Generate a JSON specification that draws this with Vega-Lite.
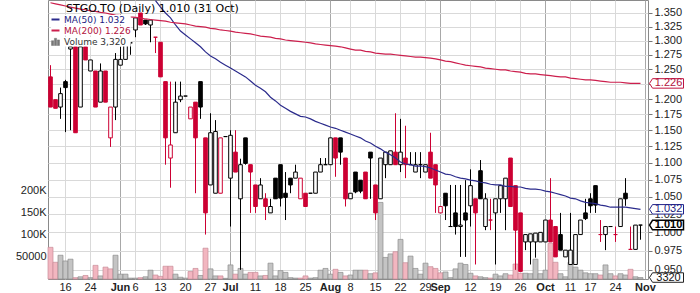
{
"$schema": "https://vega.github.io/schema/vega-lite/v6.json",
"width": 600,
"height": 279,
"autosize": {"type": "none"},
"padding": {"left": 48, "top": 0, "right": 52, "bottom": 14},
"background": "#ffffff",
"config": {
  "view": {"stroke": "#8a8a8a", "strokeWidth": 1},
  "axis": {"labelFont": "Liberation Sans", "labelFontSize": 11, "labelColor": "#222222", "domain": false}
},
"data": {"values": [
{"d":"2022-05-11","o":1.237,"h":1.257,"l":1.187,"c":1.187,"v":72000,"m50":null,"m200":1.369,"dir":"d"},
{"d":"2022-05-12","o":1.199,"h":1.199,"l":1.185,"c":1.185,"v":38000,"m50":null,"m200":1.367,"dir":"d"},
{"d":"2022-05-13","o":1.187,"h":1.219,"l":1.168,"c":1.209,"v":54000,"m50":null,"m200":1.365,"dir":"u"},
{"d":"2022-05-16","o":1.229,"h":1.232,"l":1.147,"c":1.219,"v":41000,"m50":null,"m200":1.363,"dir":"u"},
{"d":"2022-05-17","o":1.285,"h":1.289,"l":1.150,"c":1.289,"v":45000,"m50":null,"m200":1.361,"dir":"u"},
{"d":"2022-05-18","o":1.289,"h":1.289,"l":1.146,"c":1.146,"v":3000,"m50":null,"m200":1.359,"dir":"d"},
{"d":"2022-05-19","o":1.187,"h":1.289,"l":1.187,"c":1.289,"v":5000,"m50":null,"m200":1.357,"dir":"u"},
{"d":"2022-05-20","o":1.289,"h":1.289,"l":1.266,"c":1.266,"v":8000,"m50":null,"m200":1.356,"dir":"d"},
{"d":"2022-05-24","o":1.247,"h":1.266,"l":1.247,"c":1.266,"v":3000,"m50":null,"m200":1.354,"dir":"u"},
{"d":"2022-05-25","o":1.247,"h":1.247,"l":1.187,"c":1.187,"v":31000,"m50":null,"m200":1.353,"dir":"d"},
{"d":"2022-05-26","o":1.195,"h":1.260,"l":1.195,"c":1.247,"v":7000,"m50":null,"m200":1.351,"dir":"u"},
{"d":"2022-05-27","o":1.247,"h":1.247,"l":1.195,"c":1.195,"v":27000,"m50":null,"m200":1.350,"dir":"d"},
{"d":"2022-05-30","o":1.138,"h":1.187,"l":1.124,"c":1.187,"v":23000,"m50":null,"m200":1.348,"dir":"d"},
{"d":"2022-05-31","o":1.187,"h":1.278,"l":1.166,"c":1.267,"v":54000,"m50":null,"m200":1.346,"dir":"u"},
{"d":"2022-06-01","o":1.257,"h":1.289,"l":1.257,"c":1.267,"v":11000,"m50":null,"m200":1.345,"dir":"u"},
{"d":"2022-06-02","o":1.267,"h":1.296,"l":1.267,"c":1.296,"v":11000,"m50":null,"m200":1.345,"dir":"u"},
{"d":"2022-06-03","o":1.296,"h":1.296,"l":1.275,"c":1.296,"v":2000,"m50":null,"m200":1.343,"dir":"u"},
{"d":"2022-06-06","o":1.319,"h":1.341,"l":1.306,"c":1.341,"v":2000,"m50":null,"m200":1.342,"dir":"u"},
{"d":"2022-06-07","o":1.350,"h":1.350,"l":1.328,"c":1.328,"v":3000,"m50":null,"m200":1.341,"dir":"d"},
{"d":"2022-06-08","o":1.337,"h":1.337,"l":1.328,"c":1.330,"v":5000,"m50":null,"m200":1.339,"dir":"u"},
{"d":"2022-06-09","o":1.328,"h":1.337,"l":1.297,"c":1.337,"v":20000,"m50":null,"m200":1.338,"dir":"u"},
{"d":"2022-06-10","o":1.306,"h":1.306,"l":1.278,"c":1.306,"v":9000,"m50":1.373,"m200":1.337,"dir":"d"},
{"d":"2022-06-13","o":1.297,"h":1.297,"l":1.237,"c":1.237,"v":6000,"m50":1.361,"m200":1.336,"dir":"d"},
{"d":"2022-06-14","o":1.229,"h":1.229,"l":1.097,"c":1.138,"v":29000,"m50":1.350,"m200":1.335,"dir":"d"},
{"d":"2022-06-15","o":1.107,"h":1.229,"l":1.063,"c":1.127,"v":29000,"m50":1.341,"m200":1.333,"dir":"d"},
{"d":"2022-06-16","o":1.146,"h":1.229,"l":1.146,"c":1.195,"v":11000,"m50":1.328,"m200":1.332,"dir":"u"},
{"d":"2022-06-17","o":1.199,"h":1.229,"l":1.195,"c":1.205,"v":4000,"m50":1.317,"m200":1.331,"dir":"u"},
{"d":"2022-06-20","o":1.205,"h":1.205,"l":1.205,"c":1.205,"v":2000,"m50":1.310,"m200":1.330,"dir":"u"},
{"d":"2022-06-21","o":1.168,"h":1.187,"l":1.168,"c":1.187,"v":17000,"m50":1.303,"m200":1.328,"dir":"d"},
{"d":"2022-06-22","o":1.195,"h":1.195,"l":1.055,"c":1.138,"v":24000,"m50":1.296,"m200":1.326,"dir":"d"},
{"d":"2022-06-23","o":1.229,"h":1.229,"l":1.168,"c":1.187,"v":8000,"m50":1.289,"m200":1.325,"dir":"u"},
{"d":"2022-06-24","o":1.138,"h":1.138,"l":0.997,"c":1.027,"v":70000,"m50":1.280,"m200":1.324,"dir":"d"},
{"d":"2022-06-27","o":1.067,"h":1.177,"l":1.067,"c":1.146,"v":23000,"m50":1.273,"m200":1.322,"dir":"u"},
{"d":"2022-06-28","o":1.055,"h":1.166,"l":1.055,"c":1.148,"v":7000,"m50":1.268,"m200":1.321,"dir":"u"},
{"d":"2022-06-29","o":1.055,"h":1.138,"l":1.055,"c":1.138,"v":7000,"m50":1.262,"m200":1.319,"dir":"d"},
{"d":"2022-06-30","o":1.140,"h":1.140,"l":1.140,"c":1.140,"v":1500,"m50":1.257,"m200":1.318,"dir":"u"},
{"d":"2022-07-04","o":1.077,"h":1.150,"l":1.008,"c":1.142,"v":32000,"m50":1.252,"m200":1.317,"dir":"u"},
{"d":"2022-07-05","o":1.116,"h":1.150,"l":1.086,"c":1.086,"v":11000,"m50":1.247,"m200":1.315,"dir":"d"},
{"d":"2022-07-06","o":1.047,"h":1.106,"l":0.950,"c":1.097,"v":24000,"m50":1.242,"m200":1.314,"dir":"u"},
{"d":"2022-07-07","o":1.138,"h":1.138,"l":1.097,"c":1.099,"v":11000,"m50":1.237,"m200":1.313,"dir":"u"},
{"d":"2022-07-08","o":1.097,"h":1.097,"l":1.027,"c":1.086,"v":15000,"m50":1.230,"m200":1.312,"dir":"d"},
{"d":"2022-07-11","o":1.067,"h":1.067,"l":1.027,"c":1.036,"v":15000,"m50":1.223,"m200":1.310,"dir":"d"},
{"d":"2022-07-12","o":1.047,"h":1.077,"l":1.047,"c":1.067,"v":7000,"m50":1.218,"m200":1.308,"dir":"u"},
{"d":"2022-07-13","o":1.047,"h":1.055,"l":1.017,"c":1.036,"v":8000,"m50":1.212,"m200":1.307,"dir":"d"},
{"d":"2022-07-14","o":1.027,"h":1.047,"l":1.027,"c":1.036,"v":36000,"m50":1.203,"m200":1.306,"dir":"u"},
{"d":"2022-07-15","o":1.077,"h":1.077,"l":1.047,"c":1.047,"v":7000,"m50":1.197,"m200":1.304,"dir":"u"},
{"d":"2022-07-18","o":1.097,"h":1.097,"l":1.036,"c":1.048,"v":19000,"m50":1.190,"m200":1.303,"dir":"u"},
{"d":"2022-07-19","o":1.055,"h":1.086,"l":1.017,"c":1.049,"v":15000,"m50":1.185,"m200":1.301,"dir":"u"},
{"d":"2022-07-20","o":1.077,"h":1.077,"l":1.055,"c":1.067,"v":3000,"m50":1.180,"m200":1.300,"dir":"u"},
{"d":"2022-07-21","o":1.077,"h":1.097,"l":1.077,"c":1.086,"v":2000,"m50":1.176,"m200":1.299,"dir":"u"},
{"d":"2022-07-22","o":1.047,"h":1.077,"l":1.047,"c":1.077,"v":2000,"m50":1.172,"m200":1.298,"dir":"d"},
{"d":"2022-07-25","o":1.055,"h":1.055,"l":1.036,"c":1.036,"v":7000,"m50":1.171,"m200":1.297,"dir":"d"},
{"d":"2022-07-26","o":1.055,"h":1.055,"l":1.055,"c":1.055,"v":2000,"m50":1.168,"m200":1.296,"dir":"u"},
{"d":"2022-07-27","o":1.055,"h":1.086,"l":1.055,"c":1.086,"v":3000,"m50":1.164,"m200":1.294,"dir":"u"},
{"d":"2022-07-28","o":1.086,"h":1.107,"l":1.086,"c":1.097,"v":20000,"m50":1.161,"m200":1.293,"dir":"u"},
{"d":"2022-07-29","o":1.097,"h":1.107,"l":1.097,"c":1.097,"v":24000,"m50":1.158,"m200":1.292,"dir":"u"},
{"d":"2022-08-02","o":1.097,"h":1.138,"l":1.097,"c":1.138,"v":11000,"m50":1.155,"m200":1.291,"dir":"u"},
{"d":"2022-08-03","o":1.138,"h":1.138,"l":1.079,"c":1.107,"v":22000,"m50":1.153,"m200":1.290,"dir":"d"},
{"d":"2022-08-04","o":1.138,"h":1.138,"l":1.097,"c":1.116,"v":15000,"m50":1.150,"m200":1.289,"dir":"u"},
{"d":"2022-08-05","o":1.107,"h":1.107,"l":1.036,"c":1.047,"v":7000,"m50":1.147,"m200":1.287,"dir":"d"},
{"d":"2022-08-08","o":1.047,"h":1.055,"l":1.047,"c":1.055,"v":9000,"m50":1.144,"m200":1.285,"dir":"u"},
{"d":"2022-08-09","o":1.086,"h":1.086,"l":1.055,"c":1.057,"v":20000,"m50":1.141,"m200":1.283,"dir":"u"},
{"d":"2022-08-10","o":1.074,"h":1.074,"l":1.055,"c":1.058,"v":20000,"m50":1.138,"m200":1.283,"dir":"u"},
{"d":"2022-08-11","o":1.086,"h":1.086,"l":1.047,"c":1.047,"v":20000,"m50":1.133,"m200":1.281,"dir":"d"},
{"d":"2022-08-12","o":1.116,"h":1.116,"l":1.047,"c":1.107,"v":12000,"m50":1.130,"m200":1.280,"dir":"u"},
{"d":"2022-08-15","o":1.067,"h":1.067,"l":1.017,"c":1.027,"v":14000,"m50":1.125,"m200":1.278,"dir":"d"},
{"d":"2022-08-16","o":1.047,"h":1.107,"l":1.047,"c":1.107,"v":174000,"m50":1.121,"m200":1.277,"dir":"u"},
{"d":"2022-08-17","o":1.097,"h":1.116,"l":1.077,"c":1.116,"v":49000,"m50":1.116,"m200":1.276,"dir":"u"},
{"d":"2022-08-18","o":1.097,"h":1.118,"l":1.097,"c":1.118,"v":57000,"m50":1.112,"m200":1.276,"dir":"u"},
{"d":"2022-08-19","o":1.116,"h":1.177,"l":1.097,"c":1.097,"v":62000,"m50":1.107,"m200":1.275,"dir":"d"},
{"d":"2022-08-22","o":1.097,"h":1.168,"l":1.086,"c":1.116,"v":90000,"m50":1.101,"m200":1.274,"dir":"u"},
{"d":"2022-08-23","o":1.107,"h":1.157,"l":1.077,"c":1.097,"v":37000,"m50":1.098,"m200":1.273,"dir":"d"},
{"d":"2022-08-24","o":1.097,"h":1.116,"l":1.097,"c":1.097,"v":52000,"m50":1.097,"m200":1.272,"dir":"u"},
{"d":"2022-08-25","o":1.086,"h":1.116,"l":1.086,"c":1.097,"v":24000,"m50":1.095,"m200":1.271,"dir":"u"},
{"d":"2022-08-26","o":1.097,"h":1.116,"l":1.077,"c":1.097,"v":11000,"m50":1.095,"m200":1.271,"dir":"u"},
{"d":"2022-08-29","o":1.086,"h":1.097,"l":1.086,"c":1.097,"v":36000,"m50":1.094,"m200":1.270,"dir":"u"},
{"d":"2022-08-30","o":1.116,"h":1.146,"l":1.077,"c":1.077,"v":28000,"m50":1.092,"m200":1.269,"dir":"d"},
{"d":"2022-08-31","o":1.097,"h":1.097,"l":1.027,"c":1.067,"v":24000,"m50":1.089,"m200":1.268,"dir":"d"},
{"d":"2022-09-01","o":1.027,"h":1.036,"l":1.027,"c":1.036,"v":14000,"m50":1.086,"m200":1.266,"dir":"d"},
{"d":"2022-09-02","o":1.055,"h":1.055,"l":1.017,"c":1.037,"v":16000,"m50":1.083,"m200":1.264,"dir":"u"},
{"d":"2022-09-06","o":1.008,"h":1.067,"l":1.008,"c":1.008,"v":3000,"m50":1.082,"m200":1.263,"dir":"u"},
{"d":"2022-09-07","o":1.027,"h":1.067,"l":0.997,"c":1.008,"v":23000,"m50":1.079,"m200":1.261,"dir":"u"},
{"d":"2022-09-08","o":1.008,"h":1.067,"l":0.967,"c":1.010,"v":36000,"m50":1.077,"m200":1.259,"dir":"u"},
{"d":"2022-09-09","o":1.027,"h":1.074,"l":0.967,"c":1.017,"v":33000,"m50":1.076,"m200":1.257,"dir":"u"},
{"d":"2022-09-12","o":1.037,"h":1.090,"l":1.008,"c":1.066,"v":13000,"m50":1.074,"m200":1.256,"dir":"u"},
{"d":"2022-09-13","o":1.047,"h":1.047,"l":0.957,"c":1.027,"v":7000,"m50":1.073,"m200":1.255,"dir":"d"},
{"d":"2022-09-14","o":1.088,"h":1.104,"l":1.047,"c":1.047,"v":5000,"m50":1.071,"m200":1.254,"dir":"u"},
{"d":"2022-09-15","o":1.008,"h":1.055,"l":1.003,"c":1.047,"v":3000,"m50":1.070,"m200":1.252,"dir":"u"},
{"d":"2022-09-16","o":1.017,"h":1.047,"l":1.003,"c":1.017,"v":2000,"m50":1.068,"m200":1.251,"dir":"d"},
{"d":"2022-09-19","o":1.027,"h":1.047,"l":0.957,"c":1.047,"v":11000,"m50":1.067,"m200":1.250,"dir":"u"},
{"d":"2022-09-20","o":1.047,"h":1.066,"l":1.027,"c":1.066,"v":7000,"m50":1.067,"m200":1.249,"dir":"u"},
{"d":"2022-09-21","o":1.047,"h":1.077,"l":1.003,"c":1.077,"v":12000,"m50":1.065,"m200":1.249,"dir":"u"},
{"d":"2022-09-22","o":1.107,"h":1.107,"l":1.036,"c":1.036,"v":9000,"m50":1.065,"m200":1.247,"dir":"d"},
{"d":"2022-09-23","o":1.066,"h":1.066,"l":0.950,"c":1.003,"v":34000,"m50":1.064,"m200":1.246,"dir":"d"},
{"d":"2022-09-26","o":1.027,"h":1.027,"l":0.948,"c":0.948,"v":13000,"m50":1.064,"m200":1.245,"dir":"d"},
{"d":"2022-09-27","o":0.987,"h":0.997,"l":0.976,"c":0.997,"v":13000,"m50":1.062,"m200":1.243,"dir":"u"},
{"d":"2022-09-28","o":0.987,"h":0.998,"l":0.957,"c":0.998,"v":12000,"m50":1.061,"m200":1.242,"dir":"u"},
{"d":"2022-09-29","o":0.987,"h":0.999,"l":0.966,"c":0.999,"v":45000,"m50":1.061,"m200":1.242,"dir":"u"},
{"d":"2022-09-30","o":0.987,"h":1.000,"l":0.987,"c":1.000,"v":12000,"m50":1.060,"m200":1.241,"dir":"u"},
{"d":"2022-10-03","o":0.987,"h":1.017,"l":0.987,"c":1.017,"v":20000,"m50":1.058,"m200":1.240,"dir":"u"},
{"d":"2022-10-04","o":1.017,"h":1.077,"l":0.987,"c":0.987,"v":81000,"m50":1.057,"m200":1.239,"dir":"d"},
{"d":"2022-10-05","o":1.008,"h":1.008,"l":0.967,"c":0.967,"v":38000,"m50":1.055,"m200":1.238,"dir":"d"},
{"d":"2022-10-06","o":0.997,"h":1.027,"l":0.976,"c":0.976,"v":12000,"m50":1.053,"m200":1.237,"dir":"u"},
{"d":"2022-10-07","o":0.967,"h":0.976,"l":0.967,"c":0.976,"v":5000,"m50":1.051,"m200":1.237,"dir":"u"},
{"d":"2022-10-11","o":0.957,"h":1.027,"l":0.957,"c":0.976,"v":38000,"m50":1.048,"m200":1.235,"dir":"u"},
{"d":"2022-10-12","o":0.957,"h":0.997,"l":0.957,"c":0.997,"v":27000,"m50":1.047,"m200":1.234,"dir":"u"},
{"d":"2022-10-13","o":0.997,"h":1.017,"l":0.997,"c":1.017,"v":20000,"m50":1.044,"m200":1.233,"dir":"u"},
{"d":"2022-10-14","o":1.027,"h":1.047,"l":1.017,"c":1.019,"v":14000,"m50":1.042,"m200":1.232,"dir":"u"},
{"d":"2022-10-17","o":1.047,"h":1.055,"l":1.027,"c":1.037,"v":12000,"m50":1.041,"m200":1.232,"dir":"u"},
{"d":"2022-10-18","o":1.066,"h":1.066,"l":1.027,"c":1.038,"v":12000,"m50":1.040,"m200":1.231,"dir":"u"},
{"d":"2022-10-19","o":0.997,"h":1.017,"l":0.987,"c":0.997,"v":9000,"m50":1.038,"m200":1.230,"dir":"d"},
{"d":"2022-10-20","o":0.997,"h":1.008,"l":0.976,"c":1.008,"v":32000,"m50":1.037,"m200":1.229,"dir":"u"},
{"d":"2022-10-21","o":1.008,"h":1.008,"l":1.008,"c":1.008,"v":12000,"m50":1.035,"m200":1.228,"dir":"u"},
{"d":"2022-10-24","o":0.997,"h":1.008,"l":0.987,"c":0.997,"v":7000,"m50":1.035,"m200":1.228,"dir":"d"},
{"d":"2022-10-25","o":1.008,"h":1.047,"l":1.008,"c":1.047,"v":12000,"m50":1.035,"m200":1.228,"dir":"u"},
{"d":"2022-10-26","o":1.055,"h":1.077,"l":1.037,"c":1.047,"v":9000,"m50":1.035,"m200":1.227,"dir":"u"},
{"d":"2022-10-27","o":0.977,"h":1.008,"l":0.977,"c":0.977,"v":22000,"m50":1.034,"m200":1.226,"dir":"d"},
{"d":"2022-10-28","o":0.977,"h":1.010,"l":0.977,"c":1.010,"v":5000,"m50":1.033,"m200":1.226,"dir":"u"},
{"d":"2022-10-31","o":1.010,"h":1.010,"l":0.990,"c":1.010,"v":3320,"m50":1.032,"m200":1.226,"dir":"u"}
]},
"encoding": {
  "x": {"field": "d", "type": "ordinal", "title": null,
    "scale": {"paddingInner": 0, "paddingOuter": 0, "domain": ["2022-05-11","2022-05-12","2022-05-13","2022-05-16","2022-05-17","2022-05-18","2022-05-19","2022-05-20","2022-05-24","2022-05-25","2022-05-26","2022-05-27","2022-05-30","2022-05-31","2022-06-01","2022-06-02","2022-06-03","2022-06-06","2022-06-07","2022-06-08","2022-06-09","2022-06-10","2022-06-13","2022-06-14","2022-06-15","2022-06-16","2022-06-17","2022-06-20","2022-06-21","2022-06-22","2022-06-23","2022-06-24","2022-06-27","2022-06-28","2022-06-29","2022-06-30","2022-07-04","2022-07-05","2022-07-06","2022-07-07","2022-07-08","2022-07-11","2022-07-12","2022-07-13","2022-07-14","2022-07-15","2022-07-18","2022-07-19","2022-07-20","2022-07-21","2022-07-22","2022-07-25","2022-07-26","2022-07-27","2022-07-28","2022-07-29","2022-08-02","2022-08-03","2022-08-04","2022-08-05","2022-08-08","2022-08-09","2022-08-10","2022-08-11","2022-08-12","2022-08-15","2022-08-16","2022-08-17","2022-08-18","2022-08-19","2022-08-22","2022-08-23","2022-08-24","2022-08-25","2022-08-26","2022-08-29","2022-08-30","2022-08-31","2022-09-01","2022-09-02","2022-09-06","2022-09-07","2022-09-08","2022-09-09","2022-09-12","2022-09-13","2022-09-14","2022-09-15","2022-09-16","2022-09-19","2022-09-20","2022-09-21","2022-09-22","2022-09-23","2022-09-26","2022-09-27","2022-09-28","2022-09-29","2022-09-30","2022-10-03","2022-10-04","2022-10-05","2022-10-06","2022-10-07","2022-10-11","2022-10-12","2022-10-13","2022-10-14","2022-10-17","2022-10-18","2022-10-19","2022-10-20","2022-10-21","2022-10-24","2022-10-25","2022-10-26","2022-10-27","2022-10-28","2022-10-31","2022-11-01"]},
    "axis": {
      "values": ["2022-05-16","2022-05-24","2022-06-01","2022-06-06","2022-06-13","2022-06-20","2022-06-27","2022-07-04","2022-07-11","2022-07-18","2022-07-25","2022-08-02","2022-08-08","2022-08-15","2022-08-22","2022-08-29","2022-09-01","2022-09-12","2022-09-19","2022-09-26","2022-10-03","2022-10-11","2022-10-17","2022-10-24","2022-11-01"],
      "labelExpr": "indexof(['2022-06-01','2022-07-04','2022-08-02','2022-09-01','2022-10-03','2022-11-01'], datum.value) >= 0 ? ['Jun','Jul','Aug','Sep','Oct','Nov'][indexof(['2022-06-01','2022-07-04','2022-08-02','2022-09-01','2022-10-03','2022-11-01'], datum.value)] : '' + toNumber(substring(datum.value, 8, 10))",
      "labelAngle": 0, "labelOverlap": false, "labelPadding": 2, "ticks": false, "bandPosition": 0.5,
      "grid": true,
      "gridColor": {"condition": {"test": "indexof(['2022-06-01','2022-07-04','2022-08-02','2022-09-01','2022-10-03','2022-11-01'], datum.value) >= 0", "value": "#a8a8a8"}, "value": "#d9d9d9"},
      "labelFontWeight": {"condition": {"test": "indexof(['2022-06-01','2022-07-04','2022-08-02','2022-09-01','2022-10-03','2022-11-01'], datum.value) >= 0", "value": "bold"}, "value": "normal"},
      "labelColor": "#222222"
    }
  }
},
"layer": [
  {
    "layer": [
      {
        "mark": {"type": "bar", "strokeWidth": 0.7},
        "encoding": {
          "y": {"field": "v", "type": "quantitative", "title": null,
            "scale": {"domain": [0, 634000], "nice": false},
            "axis": {"orient": "left", "values": [50000, 100000, 150000, 200000], "labelExpr": "datum.value >= 100000 ? (datum.value / 1000) + 'K' : '' + datum.value", "grid": false, "ticks": false, "domain": false, "labelPadding": 2}},
          "fill": {"field": "dir", "type": "nominal", "scale": {"domain": ["u", "d"], "range": ["#c4c4c4", "#f2b6c0"]}, "legend": null},
          "stroke": {"field": "dir", "type": "nominal", "scale": {"domain": ["u", "d"], "range": ["#8e8e8e", "#c98e99"]}, "legend": null}
        }
      },
      {
        "transform": [{"filter": "datum.d == '2022-10-31'"}],
        "mark": {"type": "point", "shape": "M-3.5,0L-2.9,-0.95L3.3,-0.95L3.3,0.95L-2.9,0.95Z", "size": 100, "filled": true, "fill": "#ffffff", "stroke": "#222222", "strokeWidth": 1, "opacity": 1, "xOffset": 26.5},
        "encoding": {"y": {"field": "v", "type": "quantitative", "title": null}}
      },
      {
        "transform": [{"filter": "datum.d == '2022-10-31'"}],
        "mark": {"type": "text", "dx": 28, "font": "Liberation Sans", "fontSize": 11, "color": "#111111", "align": "center", "baseline": "middle"},
        "encoding": {"y": {"field": "v", "type": "quantitative", "title": null}, "text": {"field": "v", "type": "quantitative", "format": "d"}}
      }
    ]
  },
  {
    "layer": [
      {
        "mark": {"type": "rule", "strokeWidth": 1},
        "encoding": {
          "y": {"field": "l", "type": "quantitative", "title": null,
            "scale": {"type": "log", "domain": [0.9382, 1.3742], "nice": false},
            "axis": {"orient": "right", "values": [0.95, 0.975, 1, 1.025, 1.05, 1.075, 1.1, 1.125, 1.15, 1.175, 1.2, 1.225, 1.25, 1.275, 1.3, 1.325, 1.35], "format": ".3f", "grid": true, "gridColor": "#d9d9d9", "ticks": true, "tickSize": 4, "tickColor": "#777777", "labelPadding": 2, "domain": false}},
          "y2": {"field": "h"},
          "stroke": {"field": "dir", "type": "nominal", "scale": {"domain": ["u", "d"], "range": ["#000000", "#cc0033"]}, "legend": null}
        }
      },
      {
        "mark": {"type": "bar", "width": 3.6, "strokeWidth": 1},
        "encoding": {
          "y": {"field": "o", "type": "quantitative", "title": null},
          "y2": {"field": "c"},
          "fill": {"condition": {"test": "datum.c > datum.o", "value": "#ffffff"}, "field": "dir", "type": "nominal", "scale": {"domain": ["u", "d"], "range": ["#000000", "#cc0033"]}, "legend": null},
          "stroke": {"field": "dir", "type": "nominal", "legend": null}
        }
      },
      {
        "mark": {"type": "line", "strokeWidth": 1.2},
        "encoding": {
          "y": {"field": "m50", "type": "quantitative", "title": null},
          "color": {"datum": "MA(50) 1.032", "type": "nominal",
            "scale": {"domain": ["MA(50) 1.032", "MA(200) 1.226", "Volume 3,320"], "range": ["#2b2b8c", "#cc1f4d", "#777777"]},
            "legend": {"orient": "top-left", "offset": 0, "padding": 3,
              "title": "STGO.TO (Daily) 1.010 (31 Oct)", "titleFont": "DejaVu Sans", "titleFontSize": 11, "titleFontWeight": "normal", "titleColor": "#000000", "titleLimit": 400, "titlePadding": 1,
              "labelFont": "DejaVu Sans", "labelFontSize": 9, "labelOffset": 4, "symbolSize": 64, "symbolStrokeWidth": 2, "symbolType": "stroke", "rowPadding": 1,
              "encode": {
                "title": {"update": {"dx": {"value": 15}}},
                "entries": {"update": {"fill": {"value": "#ffffff"}, "width": {"value": 76}, "height": {"value": 11}}},
                "labels": {"update": {"fill": {"signal": "datum.value == 'MA(50) 1.032' ? '#1c1c80' : datum.value == 'MA(200) 1.226' ? '#b3123d' : '#333333'"}}},
                "symbols": {"update": {
                  "shape": {"signal": "datum.value == 'Volume 3,320' ? 'M-1,1V-0.2H-0.45V1ZM-0.27,1V-0.8H0.27V1ZM0.45,1V-0.4H1V1Z' : 'stroke'"},
                  "fill": {"signal": "datum.value == 'Volume 3,320' ? '#777777' : 'transparent'"},
                  "strokeWidth": {"signal": "datum.value == 'Volume 3,320' ? 0.5 : 2"}
                }}
              }
            }
          }
        }
      },
      {
        "mark": {"type": "line", "strokeWidth": 1.2},
        "encoding": {
          "y": {"field": "m200", "type": "quantitative", "title": null},
          "color": {"datum": "MA(200) 1.226", "type": "nominal"}
        }
      },
      {
        "transform": [{"filter": "datum.d == '2022-10-31'"}],
        "mark": {"type": "point", "shape": "M-3.5,0L-2.9,-0.95L3.3,-0.95L3.3,0.95L-2.9,0.95Z", "size": 100, "filled": true, "fill": "#ffffff", "stroke": "#c0143f", "strokeWidth": 1, "opacity": 1, "xOffset": 26.5},
        "encoding": {"y": {"field": "m200", "type": "quantitative", "title": null}}
      },
      {
        "transform": [{"filter": "datum.d == '2022-10-31'"}],
        "mark": {"type": "text", "dx": 28, "font": "Liberation Sans", "fontSize": 11, "color": "#b3123d", "align": "center", "baseline": "middle"},
        "encoding": {"y": {"field": "m200", "type": "quantitative", "title": null}, "text": {"field": "m200", "type": "quantitative", "format": ".3f"}}
      },
      {
        "transform": [{"filter": "datum.d == '2022-10-31'"}],
        "mark": {"type": "point", "shape": "M-3.5,0L-2.9,-0.95L3.3,-0.95L3.3,0.95L-2.9,0.95Z", "size": 100, "filled": true, "fill": "#ffffff", "stroke": "#22228a", "strokeWidth": 1, "opacity": 1, "xOffset": 26.5},
        "encoding": {"y": {"field": "m50", "type": "quantitative", "title": null}}
      },
      {
        "transform": [{"filter": "datum.d == '2022-10-31'"}],
        "mark": {"type": "text", "dx": 28, "font": "Liberation Sans", "fontSize": 11, "color": "#1c1c80", "align": "center", "baseline": "middle"},
        "encoding": {"y": {"field": "m50", "type": "quantitative", "title": null}, "text": {"field": "m50", "type": "quantitative", "format": ".3f"}}
      },
      {
        "transform": [{"filter": "datum.d == '2022-10-31'"}],
        "mark": {"type": "point", "shape": "M-3.5,0L-2.9,-0.95L3.3,-0.95L3.3,0.95L-2.9,0.95Z", "size": 100, "filled": true, "fill": "#ffffff", "stroke": "#000000", "strokeWidth": 1.5, "opacity": 1, "xOffset": 26.5},
        "encoding": {"y": {"field": "c", "type": "quantitative", "title": null}}
      },
      {
        "transform": [{"filter": "datum.d == '2022-10-31'"}],
        "mark": {"type": "text", "dx": 28, "font": "Liberation Sans", "fontSize": 11, "fontWeight": "bold", "color": "#000000", "align": "center", "baseline": "middle"},
        "encoding": {"y": {"field": "c", "type": "quantitative", "title": null}, "text": {"field": "c", "type": "quantitative", "format": ".3f"}}
      }
    ]
  }
],
"resolve": {"scale": {"y": "independent", "fill": "independent", "stroke": "independent"}}
}
